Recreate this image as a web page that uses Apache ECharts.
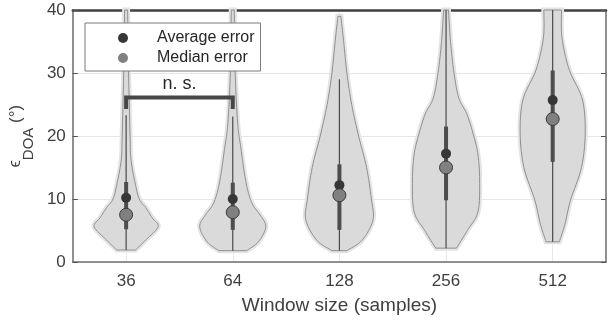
<!DOCTYPE html>
<html>
<head>
<meta charset="utf-8">
<script src="https://cdn.jsdelivr.net/npm/echarts@6/dist/echarts.min.js"></script>
<style>
  html, body { margin: 0; padding: 0; background: #fff; }
  #chart { width: 608px; height: 322px; }
</style>
</head>
<body>
<div id="chart"></div>
<script>
var categories = ['36', '64', '128', '256', '512'];
var meanError = [10.2, 10.0, 12.2, 17.2, 25.7];
var medianError = [7.5, 7.9, 10.6, 15.0, 22.7];
var q1Error = [5.2, 5.1, 5.1, 9.8, 15.9];
var q3Error = [12.7, 12.6, 15.5, 21.5, 30.4];
var whiskerLow = [1.9, 1.8, 1.8, 2.2, 3.2];
var whiskerHigh = [23.3, 23.1, 29.0, 40, 40];
var yTicks = [0, 10, 20, 30, 40];

// contorno de cada violin: niveles (grados) y medio ancho (parte de la banda)
var levels36 = [1.9, 3.5, 5.6, 7.0, 8.6, 10, 12.5, 16.2, 20, 30, 40];
var widths36 = [0.088, 0.185, 0.30, 0.245, 0.185, 0.123, 0.085, 0.046, 0.037, 0.023, 0.014];
var levels64 = [1.8, 3.2, 5.6, 7.5, 9, 11, 14, 18, 22, 30, 40];
var widths64 = [0.13, 0.24, 0.31, 0.255, 0.19, 0.146, 0.11, 0.077, 0.046, 0.023, 0.014];
var levels128 = [1.8, 3.5, 6.7, 10, 15, 20, 25, 30, 35, 39];
var widths128 = [0.07, 0.215, 0.315, 0.30, 0.255, 0.18, 0.115, 0.07, 0.04, 0.014];
var levels256 = [2.2, 5, 8, 13, 17, 20, 23.5, 26, 30, 35, 40];
var widths256 = [0.097, 0.20, 0.30, 0.315, 0.30, 0.26, 0.195, 0.12, 0.075, 0.042, 0.023];
var levels512 = [3.2, 6, 9.8, 15, 20.4, 25.7, 30, 33, 36.3, 40];
var widths512 = [0.062, 0.115, 0.167, 0.27, 0.305, 0.28, 0.167, 0.115, 0.083, 0.083];

var violinLevels = [levels36, levels64, levels128, levels256, levels512];
var violinWidths = [widths36, widths64, widths128, widths256, widths512];

// barra de "no significativo" entre 36 y 64
var bracketPair = [0, 1];
var bracketTop = 26.1;
var bracketLeg = 24.3;
var bracketLabel = 'n. s.';

var fuente = 'Liberation Sans, Arial, sans-serif';

var chart = echarts.init(document.getElementById('chart'));

// suaviza un lado del contorno (Catmull-Rom), solo para el trazo
function suavizar(pts, pasos) {
  var out = [];
  for (var k = 0; k < pts.length - 1; k++) {
    var p0 = pts[Math.max(k - 1, 0)], p1 = pts[k], p2 = pts[k + 1];
    var p3 = pts[Math.min(k + 2, pts.length - 1)];
    for (var s = 0; s < pasos; s++) {
      var t = s / pasos, t2 = t * t, t3 = t2 * t;
      var q = [0, 1].map(function (d) {
        return 0.5 * (2 * p1[d] + (-p0[d] + p2[d]) * t +
          (2 * p0[d] - 5 * p1[d] + 4 * p2[d] - p3[d]) * t2 +
          (-p0[d] + 3 * p1[d] - 3 * p2[d] + p3[d]) * t3);
      });
      out.push(q);
    }
  }
  out.push(pts[pts.length - 1]);
  return out;
}

/* dibuja el violin de cada categoría */
function violinItem(params, api) {
  var i = params.dataIndex;
  var lv = violinLevels[i];
  var wd = violinWidths[i];
  var band = api.size([1, 0])[0];
  var cx = api.coord([i, 0])[0];
  var right = [];
  for (var k = 0; k < lv.length; k++) {
    var p = api.coord([i, lv[k]]);
    right.push([p[0] + wd[k] * band, p[1]]);
  }
  right = suavizar(right, 8);
  var left = right.map(function (p) { return [2 * cx - p[0], p[1]]; }).reverse();
  var pts = right.concat(left);
  return {
    type: 'group',
    children: [
      { type: 'polygon', shape: { points: pts },
        style: { fill: 'none', stroke: '#e4e4e4', lineWidth: 5 } },
      { type: 'polygon', shape: { points: pts },
        style: { fill: '#dadada', stroke: '#8f8f8f', lineWidth: 1 } }
    ]
  };
}

/* bigotes y caja (rango intercuartil) */
function boxItem(params, api) {
  var i = params.dataIndex;
  var lo = api.coord([i, whiskerLow[i]]);
  var hi = api.coord([i, whiskerHigh[i]]);
  var a = api.coord([i, q1Error[i]]);
  var b = api.coord([i, q3Error[i]]);
  return {
    type: 'group',
    children: [
      { type: 'line', shape: { x1: lo[0], y1: lo[1], x2: hi[0], y2: hi[1] },
        style: { stroke: '#4a4a4a', lineWidth: 1.2 } },
      { type: 'line', shape: { x1: a[0], y1: a[1], x2: b[0], y2: b[1] },
        style: { stroke: '#4d4d4d', lineWidth: 4 } }
    ]
  };
}

/* corchete n. s. */
function bracketItem(params, api) {
  var p0 = api.coord([bracketPair[0], bracketLeg]);
  var p1 = api.coord([bracketPair[0], bracketTop]);
  var p2 = api.coord([bracketPair[1], bracketTop]);
  var p3 = api.coord([bracketPair[1], bracketLeg]);
  return {
    type: 'group',
    children: [
      { type: 'polyline', shape: { points: [p0, p1, p2, p3] },
        style: { stroke: '#474747', lineWidth: 4, fill: 'none' } },
      { type: 'text', x: (p1[0] + p2[0]) / 2, y: p1[1] - 5,
        style: { text: bracketLabel, font: '18px ' + fuente, fill: '#262626',
                 align: 'center', verticalAlign: 'bottom' } }
    ]
  };
}

var catData = categories.map(function (c, i) { return [i, medianError[i]]; });

var option = {
  animation: false,
  textStyle: { fontFamily: fuente },
  grid: { left: 68, right: 2, top: 10, bottom: 60 },
  legend: {
    left: 85,
    top: 23,
    orient: 'vertical',
    padding: [5, 6, 3, 33],
    itemWidth: 10,
    itemHeight: 10,
    itemGap: 0,
    borderColor: '#7a7a7a',
    borderWidth: 1,
    borderRadius: 0,
    backgroundColor: '#ffffff',
    textStyle: { fontSize: 16, color: '#262626', lineHeight: 20, fontFamily: fuente, padding: [0, 0, 0, 24] },
    data: [
      { name: 'Average error', icon: 'circle' },
      { name: 'Median error', icon: 'circle', itemStyle: { borderWidth: 0 } }
    ]
  },
  xAxis: [
    {
      type: 'category',
      data: categories,
      boundaryGap: true,
      name: 'Window size (samples)',
      nameLocation: 'middle',
      nameGap: 34,
      nameTextStyle: { fontSize: 19, color: '#404040' },
      axisLine: { onZero: false, lineStyle: { color: '#707070', width: 1.5 } },
      axisTick: { inside: true, length: 5, alignWithLabel: true, lineStyle: { color: '#404040', width: 1.5 } },
      axisLabel: { fontSize: 17, color: '#404040', margin: 11 },
      splitLine: { show: true, alignWithLabel: true, interval: 0, lineStyle: { color: '#e8e8e8', width: 1 } }
    },
    {
      type: 'category',
      data: categories,
      position: 'top',
      axisLine: { show: true, onZero: false, lineStyle: { color: '#404040', width: 2.5 } },
      axisTick: { show: false },
      axisLabel: { show: false },
      splitLine: { show: false }
    }
  ],
  yAxis: [
    {
      type: 'value',
      min: yTicks[0],
      max: yTicks[yTicks.length - 1],
      interval: 10,
      name: '{e|ϵ}{s|DOA}{n| (°)}',
      nameLocation: 'middle',
      nameRotate: 90,
      nameGap: 32,
      nameTextStyle: {
        color: '#404040',
        rich: {
          e: { fontSize: 16, color: '#404040', verticalAlign: 'top', lineHeight: 18 },
          s: { fontSize: 15, color: '#404040', verticalAlign: 'top', lineHeight: 18, padding: [13, 0, 0, 0] },
          n: { fontSize: 17, color: '#404040', verticalAlign: 'top', lineHeight: 18 }
        }
      },
      axisLine: { show: true, onZero: false, lineStyle: { color: '#6b6b6b', width: 1.5 } },
      axisTick: { show: true, inside: true, length: 5, lineStyle: { color: '#505050' } },
      axisLabel: { fontSize: 17, color: '#404040', margin: 7 },
      splitLine: { show: true, lineStyle: { color: '#e6e6e6', width: 1 } }
    },
    {
      type: 'value',
      position: 'right',
      min: yTicks[0],
      max: yTicks[yTicks.length - 1],
      interval: 10,
      axisLine: { show: true, onZero: false, lineStyle: { color: '#6b6b6b', width: 1.5 } },
      axisTick: { show: true, inside: true, length: 5, lineStyle: { color: '#505050' } },
      axisLabel: { show: false },
      splitLine: { show: false }
    }
  ],
  series: [
    { type: 'custom', name: 'violin', renderItem: violinItem, data: catData, z: 2, silent: true },
    { type: 'custom', name: 'box', renderItem: boxItem, data: catData, z: 3, silent: true },
    {
      type: 'scatter', name: 'Average error', z: 4,
      symbol: 'circle', symbolSize: 10,
      itemStyle: { color: '#363636', opacity: 1 },
      data: categories.map(function (c, i) { return [i, meanError[i]]; })
    },
    {
      type: 'scatter', name: 'Median error', z: 5,
      symbol: 'circle', symbolSize: 13,
      itemStyle: { color: '#808080', borderColor: '#3a3a3a', borderWidth: 1, opacity: 1 },
      data: categories.map(function (c, i) { return [i, medianError[i]]; })
    },
    { type: 'custom', name: 'bracket', renderItem: bracketItem, data: [[bracketPair[0], bracketTop]], z: 6, silent: true }
  ]
};

chart.setOption(option);
</script>
</body>
</html>
